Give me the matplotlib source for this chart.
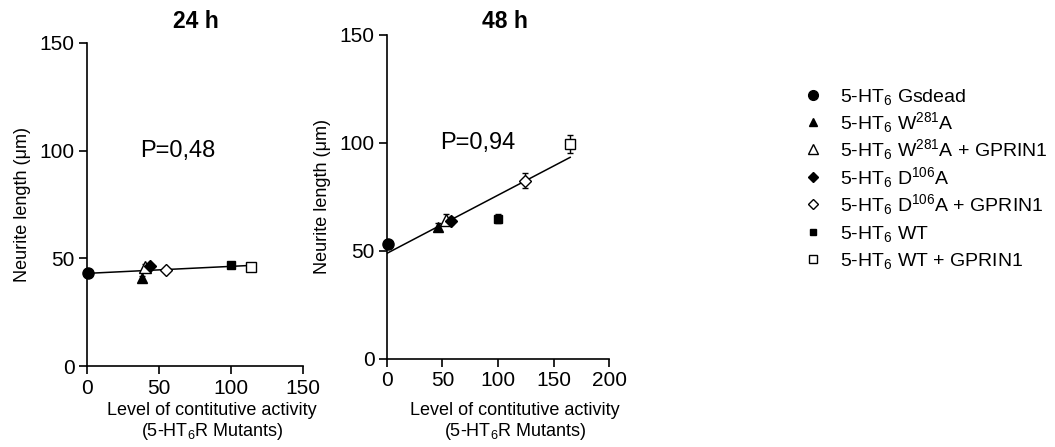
import matplotlib
matplotlib.use("Agg")
import matplotlib.pyplot as plt
import numpy as np

plt.rcParams['font.family'] = ['Liberation Sans', 'DejaVu Sans']
plt.rcParams['mathtext.fontset'] = 'custom'
plt.rcParams['mathtext.rm'] = 'Liberation Sans'
plt.rcParams['mathtext.it'] = 'Liberation Sans:italic'
plt.rcParams['mathtext.bf'] = 'Liberation Sans:bold'

# groups: Gsdead, W281A, W281A+GPRIN1, D106A, D106A+GPRIN1, WT, WT+GPRIN1
labels = ['5-HT$_6$ Gsdead', '5-HT$_6$ W$^{281}$A', '5-HT$_6$ W$^{281}$A + GPRIN1',
          '5-HT$_6$ D$^{106}$A', '5-HT$_6$ D$^{106}$A + GPRIN1', '5-HT$_6$ WT',
          '5-HT$_6$ WT + GPRIN1']
markers = ['o', '^', '^', 'D', 'D', 's', 's']
filled = [True, True, False, True, False, True, False]
msizes = [8, 7, 8, 6, 6, 6, 7]

x24 = [1, 38, 40, 44, 55, 100, 114]
y24 = [43, 41, 46, 46.5, 44.5, 47, 46]
e24 = [0.8, 1.0, 1.5, 1.0, 1.0, 1.2, 1.0]

x48 = [1, 46, 53, 58, 124, 100, 165]
y48 = [53, 61, 64.5, 64, 82.5, 65, 99.5]
e48 = [1.0, 2.0, 2.5, 1.5, 3.5, 2.0, 4.0]

p_text = ['P=0,48', 'P=0,94']
p_pos = [(63, 100), (82, 100)]
titles = ['24 h', '48 h']
xmax = [150, 200]

W, H = 1055, 447
fig = plt.figure(figsize=(W / 100, H / 100), dpi=100)
ax1 = fig.add_axes([0.0825, 0.181, 0.205, 0.723])
ax2 = fig.add_axes([0.3668, 0.197, 0.2105, 0.725])

xlabel = 'Level of contitutive activity\n(5-HT$_6$R Mutants)'
title_x = [196, 505]
xlab_x = [212, 515]

for j, (ax, xs, ys, es) in enumerate(zip([ax1, ax2], [x24, x48], [y24, y48], [e24, e48])):
    # linear regression line
    k, b = np.polyfit(xs, ys, 1)
    xl = np.array([0, max(xs)])
    ax.plot(xl, k * xl + b, color='black', lw=1.1, zorder=2)
    for i in range(len(xs)):
        ax.errorbar(xs[i], ys[i], yerr=es[i], fmt=markers[i], ms=msizes[i],
                    mfc='black' if filled[i] else 'white', mec='black', mew=1,
                    ecolor='black', elinewidth=1, capsize=2, zorder=3, clip_on=False)
    ax.set_xlim(0, xmax[j])
    ax.set_ylim(0, 150)
    ax.set_xticks(np.arange(0, xmax[j] + 1, 50))
    ax.set_yticks([0, 50, 100, 150])
    ax.spines['top'].set_visible(False)
    ax.spines['right'].set_visible(False)
    ax.spines['left'].set_linewidth(1.2)
    ax.spines['bottom'].set_linewidth(1.2)
    ax.tick_params(direction='out', length=6, width=1.2, labelsize=15, pad=3)
    ax.set_ylabel('Neurite length (μm)', fontsize=13, labelpad=6)
    ax.text(p_pos[j][0], p_pos[j][1], p_text[j], fontsize=17, ha='center', va='center')
    fig.text(title_x[j] / W, 1 - 22 / H, titles[j], fontsize=16.5, fontweight='bold',
             ha='center', va='center')
    fig.text(xlab_x[j] / W, 1 - 402 / H, xlabel, fontsize=13, ha='center', va='top',
             linespacing=1.15)

# legend drawn by hand
leg_y = [95, 122, 149, 177, 204, 232, 259]
for i in range(len(labels)):
    yf = 1 - leg_y[i] / H
    fig.add_artist(plt.Line2D([813 / W], [yf], ls='none', marker=markers[i],
                              ms=msizes[i] - 1, mfc='black' if filled[i] else 'white',
                              mec='black', mew=1, transform=fig.transFigure))
    fig.text(840 / W, 1 - (leg_y[i] + 7) / H, labels[i], fontsize=14,
             ha='left', va='baseline')

fig.savefig('out.png', dpi=100)
